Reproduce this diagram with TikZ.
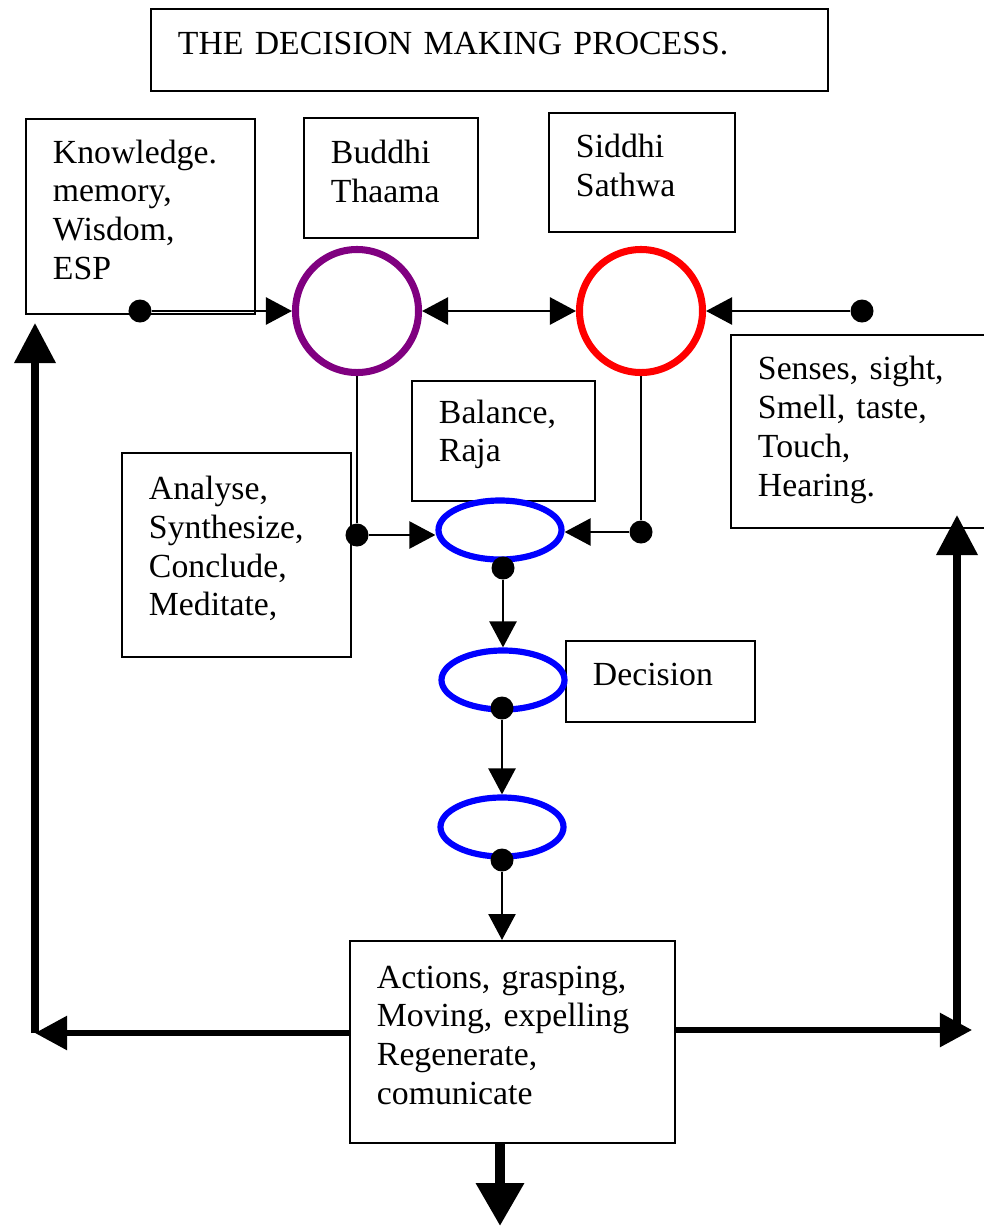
\documentclass[tikz,border=0pt]{standalone}
\usepackage{fontspec}
\setmainfont{Liberation Serif}
\usetikzlibrary{arrows.meta,shapes.geometric}

\begin{document}
\begin{tikzpicture}[
  x=0.025cm, y=-0.025cm,
  >={Triangle[length=0.65cm,width=0.675cm]},
  every node/.style={font=\fontsize{24}{27.7}\selectfont},
  box/.style={draw, line width=1.4pt, anchor=north west, align=left, inner xsep=0.675cm, inner ysep=0pt,
    execute at end node={\endgraf\vspace{#1}}},
  box/.default=0.33cm,
  ring/.style={circle, draw, line width=5pt, minimum size=3.075cm, inner sep=0pt},
  oval/.style={ellipse, draw=blue, line width=4.4pt, minimum width=3.075cm, minimum height=1.475cm, inner sep=0pt},
  blob/.style={circle, fill, minimum size=0.575cm, inner sep=0pt},
  link/.style={line width=1.8pt},
  heavy/.style={line width=4pt, -{Triangle[length=0.8cm,width=0.825cm]}},
  upheavy/.style={line width=5pt, -{Triangle[length=1.0cm,width=1.0cm]}}
]
\useasboundingbox (0,0) rectangle (984,1226);

% boxes
\node[box, text width=15.575cm, minimum height=2.05cm] (title) at (150,8) {THE DECISION MAKING PROCESS.};
\node[box, text width=4.375cm, minimum height=4.875cm] (know) at (25,118) {Knowledge.\\memory,\\Wisdom,\\ESP};
\node[box, text width=3.0cm, minimum height=3.0cm] (budtxt) at (303,117) {Buddhi\\Thaama};
\node[box, text width=3.3cm, minimum height=2.975cm] (sidtxt) at (548,112) {Siddhi\\Sathwa};
\node[box=0.1cm, text width=5.1cm, minimum height=4.825cm] (sns) at (730,334) {Senses, sight,\\Smell, taste,\\Touch,\\Hearing.};
\node[box, text width=3.225cm, minimum height=3.0cm] (bal) at (411,380) {Balance,\\Raja};
\node[box, text width=4.375cm, minimum height=5.1cm] (ana) at (121,452) {Analyse,\\Synthesize,\\Conclude,\\Meditate,};
\node[box, text width=3.375cm, minimum height=2.025cm] (dec) at (565,640) {Decision};
\node[box, text width=6.775cm, minimum height=5.05cm] (act) at (349,940) {Actions, grasping,\\Moving, expelling\\Regenerate,\\comunicate};

% circles and ovals
\node[ring, draw={rgb,255:red,128;green,0;blue,128}] (bud) at (357,311) {};
\node[ring, draw=red] (sid) at (641,311) {};
\node[oval] (e1) at (500,530) {};
\node[oval] (e2) at (503,680) {};
\node[oval] (e3) at (502,827) {};

% dots
\node[blob] (kd) at (140,311) {};
\node[blob] (sd) at (862,311) {};
\node[blob] (bd) at (357,535) {};
\node[blob] (rd) at (641,532) {};
\node[blob] (d1) at (503,568) {};
\node[blob] (d2) at (502,708) {};
\node[blob] (d3) at (502,860) {};

\coordinate (lc) at (35,1033);
\coordinate (lt) at (35,323);
\coordinate (rc) at (957,1030);
\coordinate (re) at (972,1030);
\coordinate (rt) at (957,515);
\coordinate (out) at (500,1226);

% thin connectors
\draw[link,->] (kd) -- (bud.west);
\draw[link,<->] (bud.east) -- (sid.west);
\draw[link,->] (sd) -- (sid.east);
\draw[link] (bud.south) -- (bd);
\draw[link,->] (bd) -- (bd -| e1.west);
\draw[link] (sid.south) -- (rd);
\draw[link,->] (rd) -- (rd -| e1.east);
\draw[link,->] (d1) -- (e2.north);
\draw[link,->] (d2) -- (e3.north);
\draw[link,->] (d3) -- (d3 |- act.north);

% feedback arrows
\draw[heavy] (act.west |- lc) -- (lc);
\draw[upheavy] (lc) -- (lt);
\draw[heavy] (act.east |- rc) -- (re);
\draw[upheavy] (rc) -- (rt);
\draw[line width=7pt, -{Triangle[length=1.075cm,width=1.15cm]}] (act.south -| out) -- (out);
\end{tikzpicture}
\end{document}
